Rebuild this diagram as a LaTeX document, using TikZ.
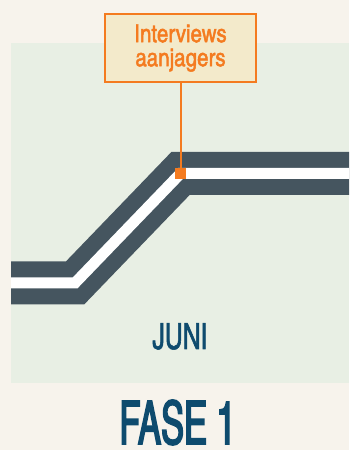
\documentclass[tikz,border=0pt]{standalone}
\usepackage{fontspec}
\newfontfamily\boxfont{texgyreheroscn-regular}[Extension=.otf,FakeBold=1.8]
\newfontfamily\monthfont{texgyreheroscn-regular}[Extension=.otf,FakeStretch=0.84,FakeBold=1.6]
\newfontfamily\phasefont{texgyreheroscn-regular}[Extension=.otf,FakeStretch=0.7,FakeBold=2.6]
\usetikzlibrary{positioning}
\definecolor{paper}{RGB}{247,243,236}
\definecolor{meadow}{RGB}{232,239,228}
\definecolor{slate}{RGB}{69,85,95}
\definecolor{tangerine}{RGB}{244,123,32}
\definecolor{cream}{RGB}{243,234,203}
\definecolor{petrol}{RGB}{14,75,110}
\tikzset{
  road/.style={draw=slate,line width=43pt,line join=miter,line cap=butt},
  lane/.style={draw=white,line width=11pt,line join=miter,line cap=butt},
  label box/.style={draw=tangerine,fill=cream,line width=2.5pt,minimum width=151pt,
    minimum height=68pt,align=center,text=tangerine,font=\boxfont\fontsize{25}{25}\selectfont,
    inner sep=0pt},
  marker/.style={fill=tangerine,minimum size=11pt,inner sep=0pt},
  pin line/.style={draw=tangerine,line width=2pt},
  month/.style={text=petrol,font=\monthfont\fontsize{36}{36}\selectfont,anchor=base,inner sep=0pt},
  phase/.style={text=petrol,font=\phasefont\fontsize{60}{60}\selectfont,anchor=base,inner sep=0pt},
}
\begin{document}
\begin{tikzpicture}[x=1pt,y=1pt]
  \useasboundingbox (0,0) rectangle (349,450);
  \fill[paper] (0,0) rectangle (349,450);
  \fill[meadow] (11,67) rectangle (349,407);
  % road with lane
  \coordinate (r0) at (11,167);
  \coordinate (r1) at (75,167);
  \coordinate (r2) at (180.5,276.5);
  \coordinate (r3) at (349,276.5);
  \draw[road] (r0) -- (r1) -- (r2) -- (r3);
  \draw[lane] (r0) -- (r1) -- (r2) -- (r3);
  % callout
  \node[label box] (iv) at (180.5,402) {Interviews\\[-1pt]aanjagers};
  \node[marker] (mk) at (r2) {};
  \draw[pin line] (iv.south -| mk) -- (mk.center);
  \node[marker] at (r2) {};
  \node[month] (jn) at (180,101) {JUNI};
  \node[phase] (fs) at (177.5,6) {FASE 1};
\end{tikzpicture}
\end{document}
